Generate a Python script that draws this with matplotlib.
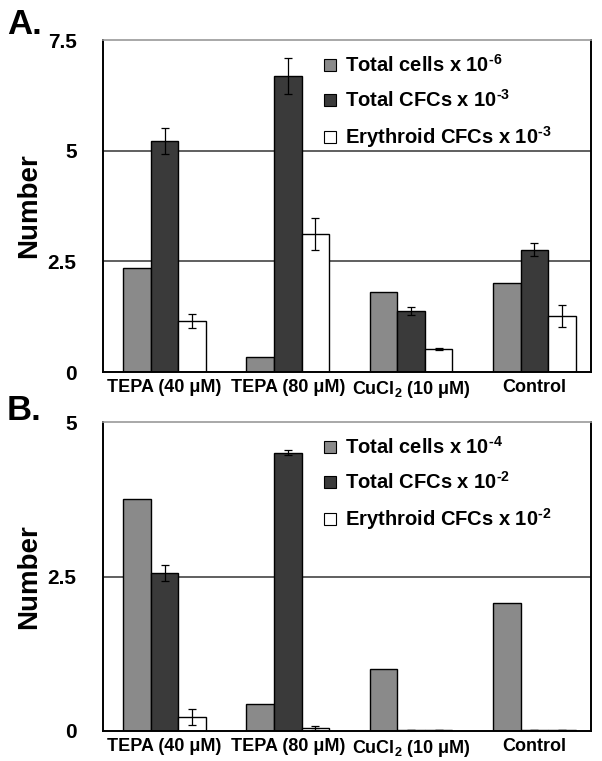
import matplotlib
matplotlib.use('Agg')
import matplotlib.pyplot as plt
import numpy as np
from matplotlib.patches import Patch

plt.rcParams['font.family'] = ['Liberation Sans', 'DejaVu Sans']
plt.rcParams['font.weight'] = 'bold'
plt.rcParams['mathtext.fontset'] = 'custom'
plt.rcParams['mathtext.rm'] = 'Liberation Sans:bold'
plt.rcParams['mathtext.it'] = 'Liberation Sans:bold'
plt.rcParams['mathtext.bf'] = 'Liberation Sans:bold'
plt.rcParams['mathtext.default'] = 'regular'

# categories
groups = ['TEPA (40 \u03bcM)', 'TEPA (80 \u03bcM)', 'CuCl$_2$ (10 \u03bcM)', 'Control']

# panel A values
a_cells = [2.35, 0.34, 1.81, 2.01]
a_cfc = [5.22, 6.69, 1.38, 2.76]
a_cfc_err = [0.30, 0.40, 0.09, 0.15]
a_ery = [1.15, 3.12, 0.52, 1.26]
a_ery_err = [0.15, 0.36, 0.03, 0.25]
a_labels = [r'Total cells x 10$^{\text{-6}}$', r'Total CFCs x 10$^{\text{-3}}$',
            r'Erythroid CFCs x 10$^{\text{-3}}$']

# panel B values
b_cells = [3.75, 0.44, 1.00, 2.07]
b_cfc = [2.56, 4.50, 0.02, 0.02]
b_cfc_err = [0.13, 0.04, 0.0, 0.0]
b_ery = [0.23, 0.05, 0.02, 0.02]
b_ery_err = [0.13, 0.03, 0.0, 0.0]
b_labels = [r'Total cells x 10$^{\text{-4}}$', r'Total CFCs x 10$^{\text{-2}}$',
            r'Erythroid CFCs x 10$^{\text{-2}}$']

colors = ['#8a8a8a', '#3a3a3a', '#ffffff']
W = 602
H = 761


def draw(ax, cells, cfc, cfc_err, ery, ery_err, labels, ymax, ticks, ticklabels, grid):
    x = np.arange(len(groups))
    bw = 0.224
    for yv in grid:
        ax.axhline(yv, color='#444444', linewidth=1.2, zorder=1)
    ax.bar(x - bw, cells, bw, color=colors[0], edgecolor='black', linewidth=1, zorder=2)
    ax.bar(x, cfc, bw, color=colors[1], edgecolor='black', linewidth=1, zorder=2)
    ax.bar(x + bw, ery, bw, color=colors[2], edgecolor='black', linewidth=1, zorder=2)
    ax.errorbar(x, cfc, yerr=cfc_err, fmt='none', ecolor='black', elinewidth=0.9,
                capsize=3, capthick=0.9, zorder=3)
    ax.errorbar(x + bw, ery, yerr=ery_err, fmt='none', ecolor='black', elinewidth=0.9,
                capsize=3, capthick=0.9, zorder=3)
    ax.set_xlim(-0.5, 3.46)
    ax.set_ylim(0, ymax)
    ax.set_yticks(ticks)
    ax.set_yticklabels(ticklabels, fontsize=15, fontweight='bold')
    ax.set_xticks(x)
    ax.set_xticklabels(groups, fontsize=13, fontweight='bold')
    ax.tick_params(axis='y', length=0, pad=19)
    ax.tick_params(axis='x', length=0, pad=5)
    for s in ['left', 'bottom', 'right']:
        ax.spines[s].set_color('black')
        ax.spines[s].set_linewidth(1.4)
    ax.spines['top'].set_color('#9a9a9a')
    ax.spines['top'].set_linewidth(1.2)
    ax.set_ylabel('Number', fontsize=20, fontweight='bold')
    ax.yaxis.set_label_coords(-0.125, 0.5)
    handles = [Patch(facecolor=c, edgecolor='black', linewidth=0.8) for c in colors]
    ax.legend(handles, labels, loc='upper left', bbox_to_anchor=(0.425, 1.0),
              frameon=False, handlelength=0.55, handleheight=0.55,
              handletextpad=0.45, labelspacing=0.65, borderaxespad=0.3,
              prop={'weight': 'bold', 'size': 14.5})


fig = plt.figure(figsize=(W / 100, H / 100), dpi=100)
axA = fig.add_axes([103 / W, 1 - 372 / H, 488 / W, 332 / H])
axB = fig.add_axes([103 / W, 1 - 731 / H, 488 / W, 309 / H])

draw(axA, a_cells, a_cfc, a_cfc_err, a_ery, a_ery_err, a_labels, 7.5,
     [0, 2.5, 5, 7.5], ['0', '2.5', '5', '7.5'], [2.5, 5])
draw(axB, b_cells, b_cfc, b_cfc_err, b_ery, b_ery_err, b_labels, 5,
     [0, 2.5, 5], ['0', '2.5', '5'], [2.5])

fig.text(7 / W, 1 - 8 / H, 'A.', fontsize=25, fontweight='bold', va='top', ha='left')
fig.text(7 / W, 1 - 394 / H, 'B.', fontsize=25, fontweight='bold', va='top', ha='left')

fig.savefig('out.png', dpi=100)
